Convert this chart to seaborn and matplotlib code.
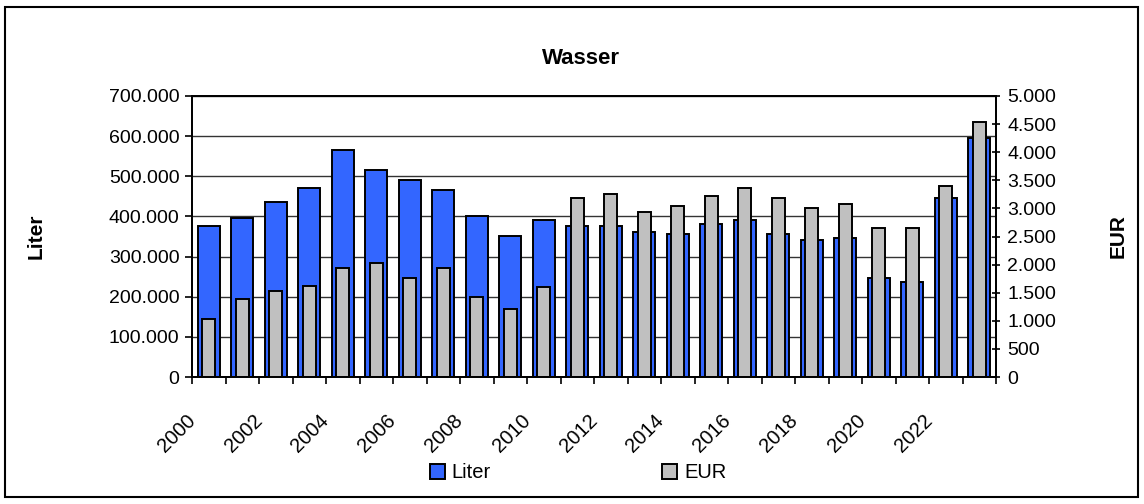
import matplotlib
matplotlib.use('Agg')
import matplotlib.pyplot as plt
import matplotlib.transforms as mtransforms
from matplotlib.patches import Patch, Rectangle
from matplotlib.ticker import FuncFormatter, MultipleLocator, FixedLocator
import seaborn as sns
import pandas as pd

# values
years = list(range(2000, 2024))
liter = [377000, 397000, 436000, 471000, 565000, 515000, 491000, 466000,
         401000, 352000, 391000, 377000, 377000, 362000, 357000, 382000,
         392000, 357000, 342000, 347000, 247000, 237000, 446000, 596000]
eur = [1030, 1380, 1525, 1625, 1945, 2025, 1765, 1945,
       1420, 1205, 1595, 3190, 3260, 2940, 3050, 3225,
       3370, 3190, 3015, 3085, 2655, 2655, 3405, 4530]

blue = '#3366FF'
grey = '#C0C0C0'

sns.set_style('white', rc={'text.color': 'black', 'axes.labelcolor': 'black',
                           'xtick.color': 'black', 'ytick.color': 'black',
                           'axes.edgecolor': 'black'})
plt.rcParams['font.family'] = ['Liberation Sans', 'DejaVu Sans']

df = pd.DataFrame({'Jahr': [str(y) for y in years], 'Liter': liter, 'EUR': eur})

fig = plt.figure(figsize=(11.44, 5.04), dpi=100)
ax = fig.add_axes([192 / 1144, 1 - 377 / 504, 804 / 1144, 281 / 504])
ax2 = ax.twinx()

sns.barplot(data=df, x='Jahr', y='Liter', ax=ax, color=blue, width=0.66,
            edgecolor='black', linewidth=1.4, saturation=1, errorbar=None)
sns.barplot(data=df, x='Jahr', y='EUR', ax=ax2, color=grey, width=0.38,
            edgecolor='black', linewidth=1.4, saturation=1, errorbar=None)

de_fmt = FuncFormatter(lambda v, p: f'{int(round(v)):,}'.replace(',', '.'))

ax.set_xlim(-0.5, len(years) - 0.5)
ax.set_ylim(0, 700000)
ax.yaxis.set_major_locator(MultipleLocator(100000))
ax.yaxis.set_major_formatter(de_fmt)
ax2.set_ylim(0, 5000)
ax2.yaxis.set_major_locator(MultipleLocator(500))
ax2.yaxis.set_major_formatter(de_fmt)

ax.set_xlabel('')
ax.set_ylabel('')
ax2.set_ylabel('')
ax2.set_xlabel('')

ax.grid(axis='y', color='#333333', linewidth=1.0)
ax.set_axisbelow(True)

# x ticks: marks at category borders, labels on every second year
ax.set_xticks(range(0, len(years), 2))
ax.set_xticklabels([str(y) for y in years[::2]], rotation=45, ha='right',
                   va='center', rotation_mode='anchor')
ax.xaxis.set_minor_locator(FixedLocator([i - 0.5 for i in range(len(years) + 1)]))
ax.tick_params(axis='x', which='major', length=0, pad=29, labelsize=14.5, bottom=True)
ax.tick_params(axis='x', which='minor', length=5, width=1.2, direction='out', bottom=True)
shift = mtransforms.ScaledTranslation(-12 / 72, 0, fig.dpi_scale_trans)
for lbl in ax.get_xticklabels():
    lbl.set_transform(lbl.get_transform() + shift)

ax.tick_params(axis='y', length=5, width=1.2, direction='out', labelsize=14, left=True, pad=4)
ax2.tick_params(axis='y', length=6, width=1.2, direction='inout', labelsize=14, right=True, pad=5)

for a in (ax, ax2):
    for s in a.spines.values():
        s.set_color('black')
        s.set_linewidth(1.3)

fig.text(581 / 1144, 1 - 58 / 504, 'Wasser', ha='center', va='center',
         fontsize=16, fontweight='bold')
fig.text(36 / 1144, 1 - 236 / 504, 'Liter', ha='center', va='center',
         rotation=90, fontsize=15, fontweight='bold')
fig.text(1118 / 1144, 1 - 236 / 504, 'EUR', ha='center', va='center',
         rotation=90, fontsize=15, fontweight='bold')

handles = [Patch(facecolor=blue, edgecolor='black', linewidth=1.4, label='Liter'),
           Patch(facecolor=grey, edgecolor='black', linewidth=1.4, label='EUR')]
fig.legend(handles=handles, loc='center', bbox_to_anchor=(578 / 1144, 1 - 473 / 504),
           ncol=2, frameon=False, fontsize=14.5, handlelength=0.75, handleheight=0.75,
           handletextpad=0.35, columnspacing=8.5)

fig.add_artist(Rectangle((5 / 1144, 7 / 504), 1133 / 1144, 490 / 504,
                         transform=fig.transFigure, fill=False,
                         edgecolor='black', linewidth=1.5))

fig.savefig('out.png', dpi=100)
